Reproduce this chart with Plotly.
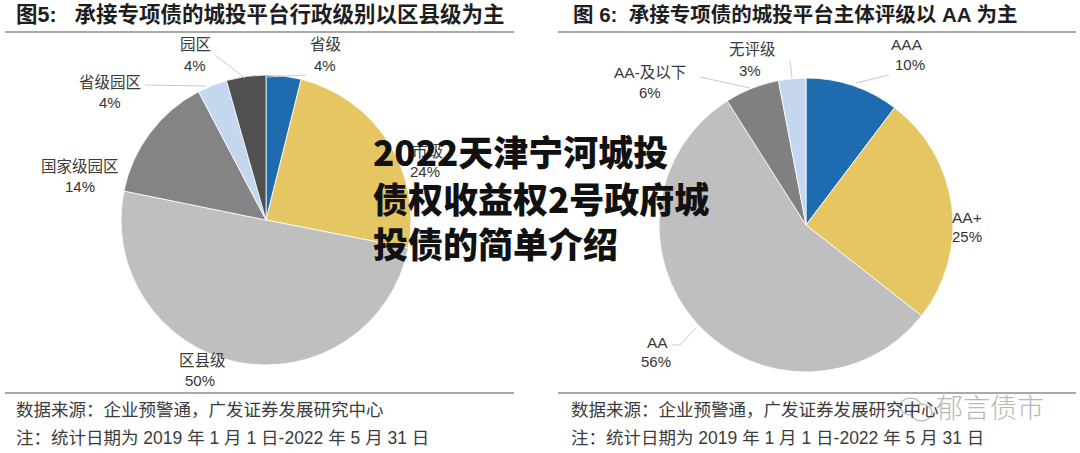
import plotly.graph_objects as go

W, H = 1080, 453

# ---- data ----
left_labels = ['省级', '市级', '区县级', '国家级园区', '省级园区', '园区']
left_values = [3.9, 24.2, 50.1, 14.1, 3.3, 4.4]
left_pct = ['4%', '24%', '50%', '14%', '4%', '4%']
left_colors = ['#1f6bb0', '#e6c662', '#bfbfbf', '#848484', '#c5d7ee', '#505050']

right_labels = ['AAA', 'AA+', 'AA', 'AA-及以下', '无评级']
right_values = [10.3, 25.3, 55.4, 6.0, 3.0]
right_pct = ['10%', '25%', '56%', '6%', '3%']
right_colors = ['#1f6bb0', '#e6c662', '#bfbfbf', '#808080', '#c5d7ee']

left_title = '图<b>5</b>:   承接专项债的城投平台行政级别以区县级为主'
right_title = '图 <b>6</b>:  承接专项债的城投平台主体评级以 <b>AA</b> 为主'
source_note = '数据来源：企业预警通，广发证券发展研究中心'
date_note = '注：统计日期为 2019 年 1 月 1 日-2022 年 5 月 31 日'
overlay_lines = ['2022天津宁河城投', '债权收益权2号政府城', '投债的简单介绍']

# label positions (pixel centres) for names and percentages
left_name_pos = [(325, 45), (427, 152), (202, 360), (80, 166), (110, 82), (195, 45)]
left_pct_pos = [(325, 66), (425, 172), (200, 380), (80, 186), (110, 102), (195, 66)]
right_name_pos = [(907, 45), (967, 217), (657, 342), (650, 73), (752, 49)]
right_pct_pos = [(910, 64), (967, 236), (656, 361), (650, 93), (750, 70)]


def px(x):
    return x / W


def py(y):
    return 1 - y / H


fig = go.Figure()

fig.add_trace(go.Pie(
    labels=left_labels, values=left_values, sort=False, direction='clockwise',
    rotation=0, textinfo='none', hoverinfo='label+percent',
    marker=dict(colors=left_colors, line=dict(color='white', width=0.8)),
    domain=dict(x=[px(121), px(411)], y=[py(365), py(75)]),
    showlegend=False,
))
fig.add_trace(go.Pie(
    labels=right_labels, values=right_values, sort=False, direction='clockwise',
    rotation=0, textinfo='none', hoverinfo='label+percent',
    marker=dict(colors=right_colors, line=dict(color='white', width=0.8)),
    domain=dict(x=[px(659), px(953)], y=[py(372), py(78)]),
    showlegend=False,
))

ann = []
lab_font = dict(family='Liberation Sans, Noto Sans CJK SC', size=15.5, color='#3a3a3a')
for names, pcts, npos, ppos in [
    (left_labels, left_pct, left_name_pos, left_pct_pos),
    (right_labels, right_pct, right_name_pos, right_pct_pos),
]:
    for n, p, (nx, ny), (qx, qy) in zip(names, pcts, npos, ppos):
        ann.append(dict(x=px(nx), y=py(ny), xref='paper', yref='paper', text=n,
                        showarrow=False, xanchor='center', yanchor='middle', font=lab_font))
        ann.append(dict(x=px(qx), y=py(qy), xref='paper', yref='paper', text=p,
                        showarrow=False, xanchor='center', yanchor='middle',
                        font=dict(family='Liberation Sans', size=15, color='#333333')))

title_font = dict(family='Liberation Sans, Noto Sans CJK SC', size=20.5, color='#1e1e1e')
ann.append(dict(x=px(14), y=py(15), xref='paper', yref='paper', text='<b>' + left_title + '</b>',
                showarrow=False, xanchor='left', yanchor='middle',
                font=dict(family='Liberation Sans, Noto Sans CJK SC', size=21.5, color='#1e1e1e')))
ann.append(dict(x=px(571), y=py(15), xref='paper', yref='paper', text='<b>' + right_title + '</b>',
                showarrow=False, xanchor='left', yanchor='middle', font=title_font))

foot_font = dict(family='Liberation Sans, Noto Sans CJK SC', size=17.5, color='#3c3c3c')
for x0 in (14, 569):
    ann.append(dict(x=px(x0), y=py(410), xref='paper', yref='paper', text=source_note,
                    showarrow=False, xanchor='left', yanchor='middle', font=foot_font))
    ann.append(dict(x=px(x0), y=py(438), xref='paper', yref='paper', text=date_note,
                    showarrow=False, xanchor='left', yanchor='middle', font=foot_font))

# watermark
ann.append(dict(x=px(990), y=py(406), xref='paper', yref='paper', text='郁言债市',
                showarrow=False, xanchor='center', yanchor='middle',
                font=dict(family='Noto Sans CJK SC', size=27, color='#b8b8b8', weight=300)))

# overlay headline
for i, (t, yy) in enumerate(zip(overlay_lines, [150, 197, 243])):
    ann.append(dict(x=px(371), y=py(yy), xref='paper', yref='paper', text=t,
                    showarrow=False, xanchor='left', yanchor='middle',
                    font=dict(family='Noto Sans CJK SC', size=35, color='#111111', weight=900)))

shapes = []
rule = dict(color='#555555', width=1.2)
for x0, x1 in ((5, 514), (558, 1076)):
    shapes.append(dict(type='line', xref='paper', yref='paper', x0=px(x0), x1=px(x1),
                       y0=py(32), y1=py(32), line=rule))
    shapes.append(dict(type='line', xref='paper', yref='paper', x0=px(x0), x1=px(x1),
                       y0=py(393), y1=py(393), line=rule))

leader = dict(color='#cccccc', width=1)
leaders = [
    [(266, 77), (306, 75)],
    [(215, 55), (245, 78)],
    [(145, 85), (206, 86)],
    [(856, 83), (889, 75)],
    [(790, 60), (792, 78)],
    [(700, 77), (750, 88)],
    [(672, 345), (680, 345), (696, 328)],
]
for pts in leaders:
    path = 'M ' + ' L '.join(f'{px(x):.5f},{py(y):.5f}' for x, y in pts)
    shapes.append(dict(type='path', xref='paper', yref='paper', path=path, line=leader))

# watermark icon (two speech bubbles)
shapes.append(dict(type='circle', xref='paper', yref='paper', x0=px(900), x1=px(921),
                   y0=py(415), y1=py(398), line=dict(color='#c0c0c0', width=1.5)))
shapes.append(dict(type='circle', xref='paper', yref='paper', x0=px(911), x1=px(932),
                   y0=py(421), y1=py(404), line=dict(color='#c0c0c0', width=1.5),
                   fillcolor='white'))

fig.update_layout(
    width=W, height=H, margin=dict(l=0, r=0, t=0, b=0),
    paper_bgcolor='white', plot_bgcolor='white',
    annotations=ann, shapes=shapes,
)

fig.write_html('out.html')
